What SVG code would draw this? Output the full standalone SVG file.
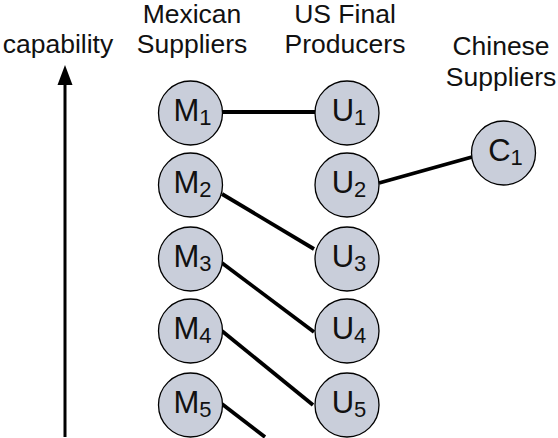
<svg xmlns="http://www.w3.org/2000/svg" width="558" height="438" viewBox="0 0 558 438">
<style>
.node circle{fill:#c9ceda;stroke:#000;stroke-width:1.3}
.node text{font-family:"Liberation Sans",Arial,sans-serif;font-size:31px;fill:#111;text-anchor:middle}
.node tspan{font-size:22px}
.title{font-family:"Liberation Sans",Arial,sans-serif;font-size:26.5px;fill:#111;text-anchor:middle}
.conn line{stroke:#000;stroke-width:3.8;stroke-linecap:butt}
</style>
<g id="titles">
<text class="title" x="58" y="53">capability</text>
<text class="title" x="192" y="23">Mexican</text>
<text class="title" x="192" y="53">Suppliers</text>
<text class="title" x="345" y="23">US Final</text>
<text class="title" x="345" y="53">Producers</text>
<text class="title" x="501" y="55">Chinese</text>
<text class="title" x="501" y="86">Suppliers</text>
</g>
<g id="axis">
<line x1="65" y1="437" x2="65" y2="82" stroke="#000" stroke-width="3"/>
<polygon points="65,65 57.5,85 72.5,85" fill="#000"/>
</g>
<g class="conn" id="connectors">
<line x1="222" y1="112" x2="315" y2="112"/>
<line x1="379" y1="183" x2="472" y2="157"/>
<line x1="222" y1="194" x2="314" y2="249"/>
<line x1="222" y1="263" x2="314" y2="332"/>
<line x1="222" y1="331" x2="313" y2="405"/>
<line x1="222" y1="404" x2="265" y2="437"/>
</g>
<g class="node" id="M1"><circle cx="190.5" cy="113" r="32"/><text x="192.5" y="121">M<tspan dy="4">1</tspan></text></g>
<g class="node" id="M2"><circle cx="190.5" cy="185" r="32"/><text x="192.5" y="193">M<tspan dy="4">2</tspan></text></g>
<g class="node" id="M3"><circle cx="190.5" cy="259" r="32"/><text x="192.5" y="267">M<tspan dy="4">3</tspan></text></g>
<g class="node" id="M4"><circle cx="190.5" cy="331" r="32"/><text x="192.5" y="339">M<tspan dy="4">4</tspan></text></g>
<g class="node" id="M5"><circle cx="190.5" cy="405" r="32"/><text x="192.5" y="413">M<tspan dy="4">5</tspan></text></g>
<g class="node" id="U1"><circle cx="347" cy="113" r="32"/><text x="349" y="121">U<tspan dy="4">1</tspan></text></g>
<g class="node" id="U2"><circle cx="347" cy="185" r="32"/><text x="349" y="193">U<tspan dy="4">2</tspan></text></g>
<g class="node" id="U3"><circle cx="347" cy="259" r="32"/><text x="349" y="267">U<tspan dy="4">3</tspan></text></g>
<g class="node" id="U4"><circle cx="347" cy="331" r="32"/><text x="349" y="339">U<tspan dy="4">4</tspan></text></g>
<g class="node" id="U5"><circle cx="347" cy="405" r="32"/><text x="349" y="413">U<tspan dy="4">5</tspan></text></g>
<g class="node" id="C1"><circle cx="503.5" cy="153" r="32"/><text x="505.5" y="161">C<tspan dy="4">1</tspan></text></g>
</svg>
